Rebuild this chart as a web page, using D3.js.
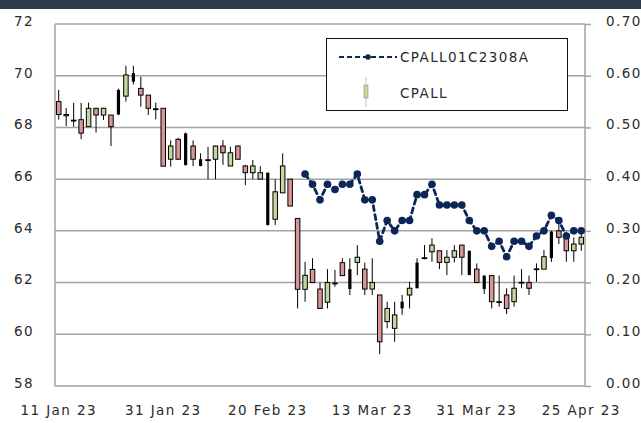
<!DOCTYPE html>
<html>
<head>
<meta charset="utf-8">
<script src="https://cdn.jsdelivr.net/npm/d3@7"></script>
<style>
  body { margin: 0; background: #fff; }
  svg { display: block; }
  text { font-family: "DejaVu Sans", sans-serif; }
</style>
</head>
<body>
<div id="chart"></div>
<script>
// Trading days (SET), 11 Jan 23 - 25 Apr 23
const dates = [
  "2023-01-11","2023-01-12","2023-01-13","2023-01-16","2023-01-17","2023-01-18","2023-01-19","2023-01-20",
  "2023-01-23","2023-01-24","2023-01-25","2023-01-26","2023-01-27","2023-01-30","2023-01-31",
  "2023-02-01","2023-02-02","2023-02-03","2023-02-06","2023-02-07","2023-02-08","2023-02-09","2023-02-10",
  "2023-02-13","2023-02-14","2023-02-15","2023-02-16","2023-02-17","2023-02-20","2023-02-21","2023-02-22",
  "2023-02-23","2023-02-24","2023-02-27","2023-02-28","2023-03-01","2023-03-02","2023-03-03","2023-03-07",
  "2023-03-08","2023-03-09","2023-03-10","2023-03-13","2023-03-14","2023-03-15","2023-03-16","2023-03-17",
  "2023-03-20","2023-03-21","2023-03-22","2023-03-23","2023-03-24","2023-03-27","2023-03-28","2023-03-29",
  "2023-03-30","2023-03-31","2023-04-03","2023-04-04","2023-04-05","2023-04-07","2023-04-10","2023-04-11",
  "2023-04-12","2023-04-17","2023-04-18","2023-04-19","2023-04-20","2023-04-21","2023-04-24","2023-04-25"
];

// CPALL daily prices
const open = [
  69.0, 68.5, 68.28, 68.3, 68.03, 68.74, 68.48, 68.48, 68.5, 69.21, 70.1, 69.51, 69.25, 68.72, 68.74,
  66.77, 67.54, 67.77, 67.28, 66.77, 66.75, 66.77, 67.28, 66.51, 67.28, 66.51, 66.25, 66.0, 66.25, 64.45,
  65.47, 66.0, 64.48, 61.74, 62.51, 61.75, 61.24, 61.98, 62.77, 62.52, 62.78, 62.52, 61.75, 61.52, 60.49,
  60.23, 61.26, 61.52, 62.77, 62.93, 63.19, 63.23, 62.78, 62.98, 63.45, 63.23, 62.52, 62.27, 62.27, 61.26,
  61.52, 61.26, 62.01, 62.0, 62.53, 62.52, 63.97, 64.0, 63.75, 63.23, 63.49
];
const high = [
  69.45, 68.75, 68.95, 68.95, 68.96, 68.74, 68.76, 68.48, 69.5, 70.38, 70.38, 69.96, 69.25, 68.96, 68.74,
  67.5, 67.6, 67.8, 67.5, 67.0, 67.25, 67.3, 67.51, 67.25, 67.3, 66.55, 66.74, 66.5, 66.25, 66.0,
  67.0, 66.0, 64.48, 62.8, 62.94, 62.0, 62.52, 62.49, 62.94, 62.94, 63.45, 62.77, 62.94, 61.52, 61.26,
  61.26, 61.52, 62.03, 62.94, 63.45, 63.71, 63.23, 63.26, 63.45, 63.45, 63.23, 62.74, 62.27, 62.27, 62.27,
  61.78, 62.27, 62.52, 62.27, 62.74, 63.26, 64.0, 64.29, 63.97, 63.75, 63.97
];
const low = [
  68.3, 68.05, 68.03, 67.55, 68.03, 67.8, 68.29, 67.28, 68.48, 69.0, 69.66, 68.8, 68.48, 68.31, 66.5,
  66.48, 66.75, 66.52, 66.5, 66.5, 66.0, 66.0, 66.55, 66.5, 66.77, 65.77, 66.0, 66.0, 64.2, 64.23,
  65.47, 64.96, 61.0, 61.26, 62.0, 61.0, 61.0, 61.84, 62.27, 61.52, 62.29, 61.52, 61.52, 59.24, 60.23,
  59.71, 60.75, 61.0, 61.78, 62.9, 62.8, 62.52, 62.29, 62.78, 62.29, 62.29, 62.0, 61.56, 61.0, 61.07,
  60.78, 61.07, 61.78, 61.52, 62.03, 62.52, 62.8, 63.49, 62.8, 62.8, 63.23
];
const close = [
  68.5, 68.45, 68.25, 67.78, 68.74, 68.48, 68.74, 68.03, 69.45, 70.03, 69.77, 69.25, 68.74, 68.7, 66.5,
  67.28, 66.77, 66.55, 66.77, 66.51, 66.72, 67.28, 67.02, 67.02, 66.77, 66.25, 66.51, 66.25, 64.23, 65.51,
  66.51, 64.96, 61.74, 62.28, 62.0, 61.0, 62.0, 61.96, 62.27, 61.75, 62.98, 61.75, 62.0, 59.71, 61.0,
  60.75, 61.0, 61.78, 61.78, 62.96, 63.45, 62.78, 62.98, 63.23, 62.98, 62.29, 62.0, 61.75, 61.26, 61.24,
  61.0, 61.78, 61.98, 61.78, 62.51, 63.0, 62.95, 63.75, 63.23, 63.49, 63.75
];
// days drawn as solid dark bars
const darkBars = [8, 10, 17, 19, 28, 39, 46, 48, 55, 57, 66];

// CPALL01C2308A (derivative warrant), listed from 27 Feb 23
const dwStart = 33;
const dwPrice = [
  0.41, 0.39, 0.36, 0.39, 0.38, 0.39, 0.39, 0.41, 0.36, 0.36, 0.28, 0.32, 0.30, 0.32, 0.32, 0.37, 0.37,
  0.39, 0.35, 0.35, 0.35, 0.35, 0.32, 0.30, 0.30, 0.27, 0.28, 0.25, 0.28, 0.28, 0.27, 0.29, 0.30, 0.33,
  0.32, 0.29, 0.30, 0.30
];

const leftTicks = [58, 60, 62, 64, 66, 68, 70, 72];
const rightTicks = [0, 0.1, 0.2, 0.3, 0.4, 0.5, 0.6, 0.7];
const labelEvery = 14;

const W = 641, H = 423;
const plot = { left: 55, right: 585, top: 24, bottom: 386 };

const svg = d3.select("#chart").append("svg")
  .attr("width", W)
  .attr("height", H);

// dark strip at top
svg.append("rect").attr("x", 0).attr("y", 0).attr("width", W).attr("height", 9).attr("fill", "#2f3a4d");

const x = d3.scaleBand().domain(dates).range([plot.left, plot.right]);
const yL = d3.scaleLinear().domain([58, 72]).range([plot.bottom, plot.top]);
const yR = d3.scaleLinear().domain([0, 0.7]).range([plot.bottom, plot.top]);

const defs = svg.append("defs");
defs.append("filter").attr("id", "soft")
  .attr("x", "-50%").attr("y", "-50%").attr("width", "200%").attr("height", "200%")
  .append("feGaussianBlur").attr("stdDeviation", 0.7);

// grid
svg.append("g").selectAll("line")
  .data(leftTicks)
  .join("line")
    .attr("x1", plot.left).attr("x2", plot.right)
    .attr("y1", d => yL(d)).attr("y2", d => yL(d))
    .attr("stroke", "#a3a3a3").attr("stroke-width", 1.5);
svg.append("g").selectAll("line")
  .data([plot.left, plot.right])
  .join("line")
    .attr("x1", d => d).attr("x2", d => d)
    .attr("y1", plot.top).attr("y2", plot.bottom)
    .attr("stroke", "#a3a3a3").attr("stroke-width", 1.5);

// axes
const axisText = g => g.selectAll("text")
  .attr("font-size", 13.5).attr("letter-spacing", 1.4).attr("fill", "#2a2a2a");

svg.append("g")
  .attr("transform", `translate(${plot.left},0)`)
  .call(d3.axisLeft(yL).tickValues(leftTicks).tickSize(0).tickPadding(21))
  .call(g => g.select(".domain").remove())
  .call(axisText)
  .call(g => g.selectAll("text").attr("dy", "0.1em"));

svg.append("g")
  .attr("transform", `translate(${plot.right},0)`)
  .call(d3.axisRight(yR).tickValues(rightTicks).tickFormat(d3.format(".2f")).tickSize(6).tickPadding(15))
  .call(g => g.select(".domain").remove())
  .call(g => g.selectAll(".tick line").attr("stroke", "#a3a3a3").attr("stroke-width", 1.5))
  .call(axisText)
  .call(g => g.selectAll("text").attr("dy", "0.1em"));

const fmt = d3.timeFormat("%d %b %y");
const parse = d3.timeParse("%Y-%m-%d");
svg.append("g")
  .attr("transform", `translate(0,${plot.bottom})`)
  .call(d3.axisBottom(x)
    .tickValues(dates.filter((d, i) => i % labelEvery === 0))
    .tickFormat(d => fmt(parse(d)))
    .tickSize(0).tickPadding(19))
  .call(g => g.select(".domain").remove())
  .call(axisText);

// candles
const bars = dates.map((d, i) => ({
  date: d, o: open[i], h: high[i], l: low[i], c: close[i], dark: darkBars.includes(i)
}));
const cx = d => x(d.date) + x.bandwidth() / 2;
const bodyW = 4.5;

const candle = svg.append("g").selectAll("g")
  .data(bars)
  .join("g");

candle.append("line")
  .attr("x1", cx).attr("x2", cx)
  .attr("y1", d => yL(d.h)).attr("y2", d => yL(d.l))
  .attr("stroke", "#000").attr("stroke-width", 1);

candle.append("rect")
  .attr("x", d => cx(d) - (d.dark ? 1.6 : bodyW / 2))
  .attr("width", d => d.dark ? 3.2 : bodyW)
  .attr("y", d => yL(Math.max(d.o, d.c)))
  .attr("height", d => Math.max(0.8, Math.abs(yL(d.o) - yL(d.c))))
  .attr("fill", d => d.dark ? "#000" : (d.c >= d.o ? "#c3d69b" : "#d99694"))
  .attr("stroke", d => d.dark ? "none" : "#000")
  .attr("stroke-width", 1);

// warrant line
const dw = dwPrice.map((v, i) => ({ date: dates[dwStart + i], v }));
const line = d3.line().x(cx).y(d => yR(d.v));

const dwG = svg.append("g").attr("filter", "url(#soft)");
dwG.append("path")
  .datum(dw)
  .attr("d", line)
  .attr("fill", "none")
  .attr("stroke", "#0d2759")
  .attr("stroke-width", 2.8)
  .attr("stroke-dasharray", "5,4")
  .attr("stroke-linecap", "round");
dwG.selectAll("circle")
  .data(dw)
  .join("circle")
    .attr("cx", cx).attr("cy", d => yR(d.v))
    .attr("r", 3.8)
    .attr("fill", "#0d2759");

// legend
const lg = svg.append("g");
lg.append("rect")
  .attr("x", 326.5).attr("y", 38.5).attr("width", 241).attr("height", 72)
  .attr("fill", "#fff").attr("stroke", "#111").attr("stroke-width", 1);
lg.append("line")
  .attr("x1", 339).attr("x2", 397).attr("y1", 57).attr("y2", 57)
  .attr("stroke", "#0d2759").attr("stroke-width", 1.8).attr("stroke-dasharray", "5,3");
lg.append("circle").attr("cx", 368).attr("cy", 57).attr("r", 2.8).attr("fill", "#0d2759");
lg.append("line")
  .attr("x1", 366).attr("x2", 366).attr("y1", 77).attr("y2", 107)
  .attr("stroke", "#c8c8c8").attr("stroke-width", 1);
lg.append("rect")
  .attr("x", 364).attr("y", 85).attr("width", 4).attr("height", 13)
  .attr("fill", "#c3d69b").attr("stroke", "#8c8c8c").attr("stroke-width", 0.6);
lg.selectAll("text.lt")
  .data([{ t: "CPALL01C2308A", y: 57 }, { t: "CPALL", y: 93 }])
  .join("text")
    .attr("class", "lt")
    .attr("x", 400).attr("y", d => d.y)
    .attr("dy", "0.35em")
    .attr("font-size", 13.5).attr("letter-spacing", 1.4).attr("fill", "#2a2a2a")
    .text(d => d.t);
</script>
</body>
</html>
